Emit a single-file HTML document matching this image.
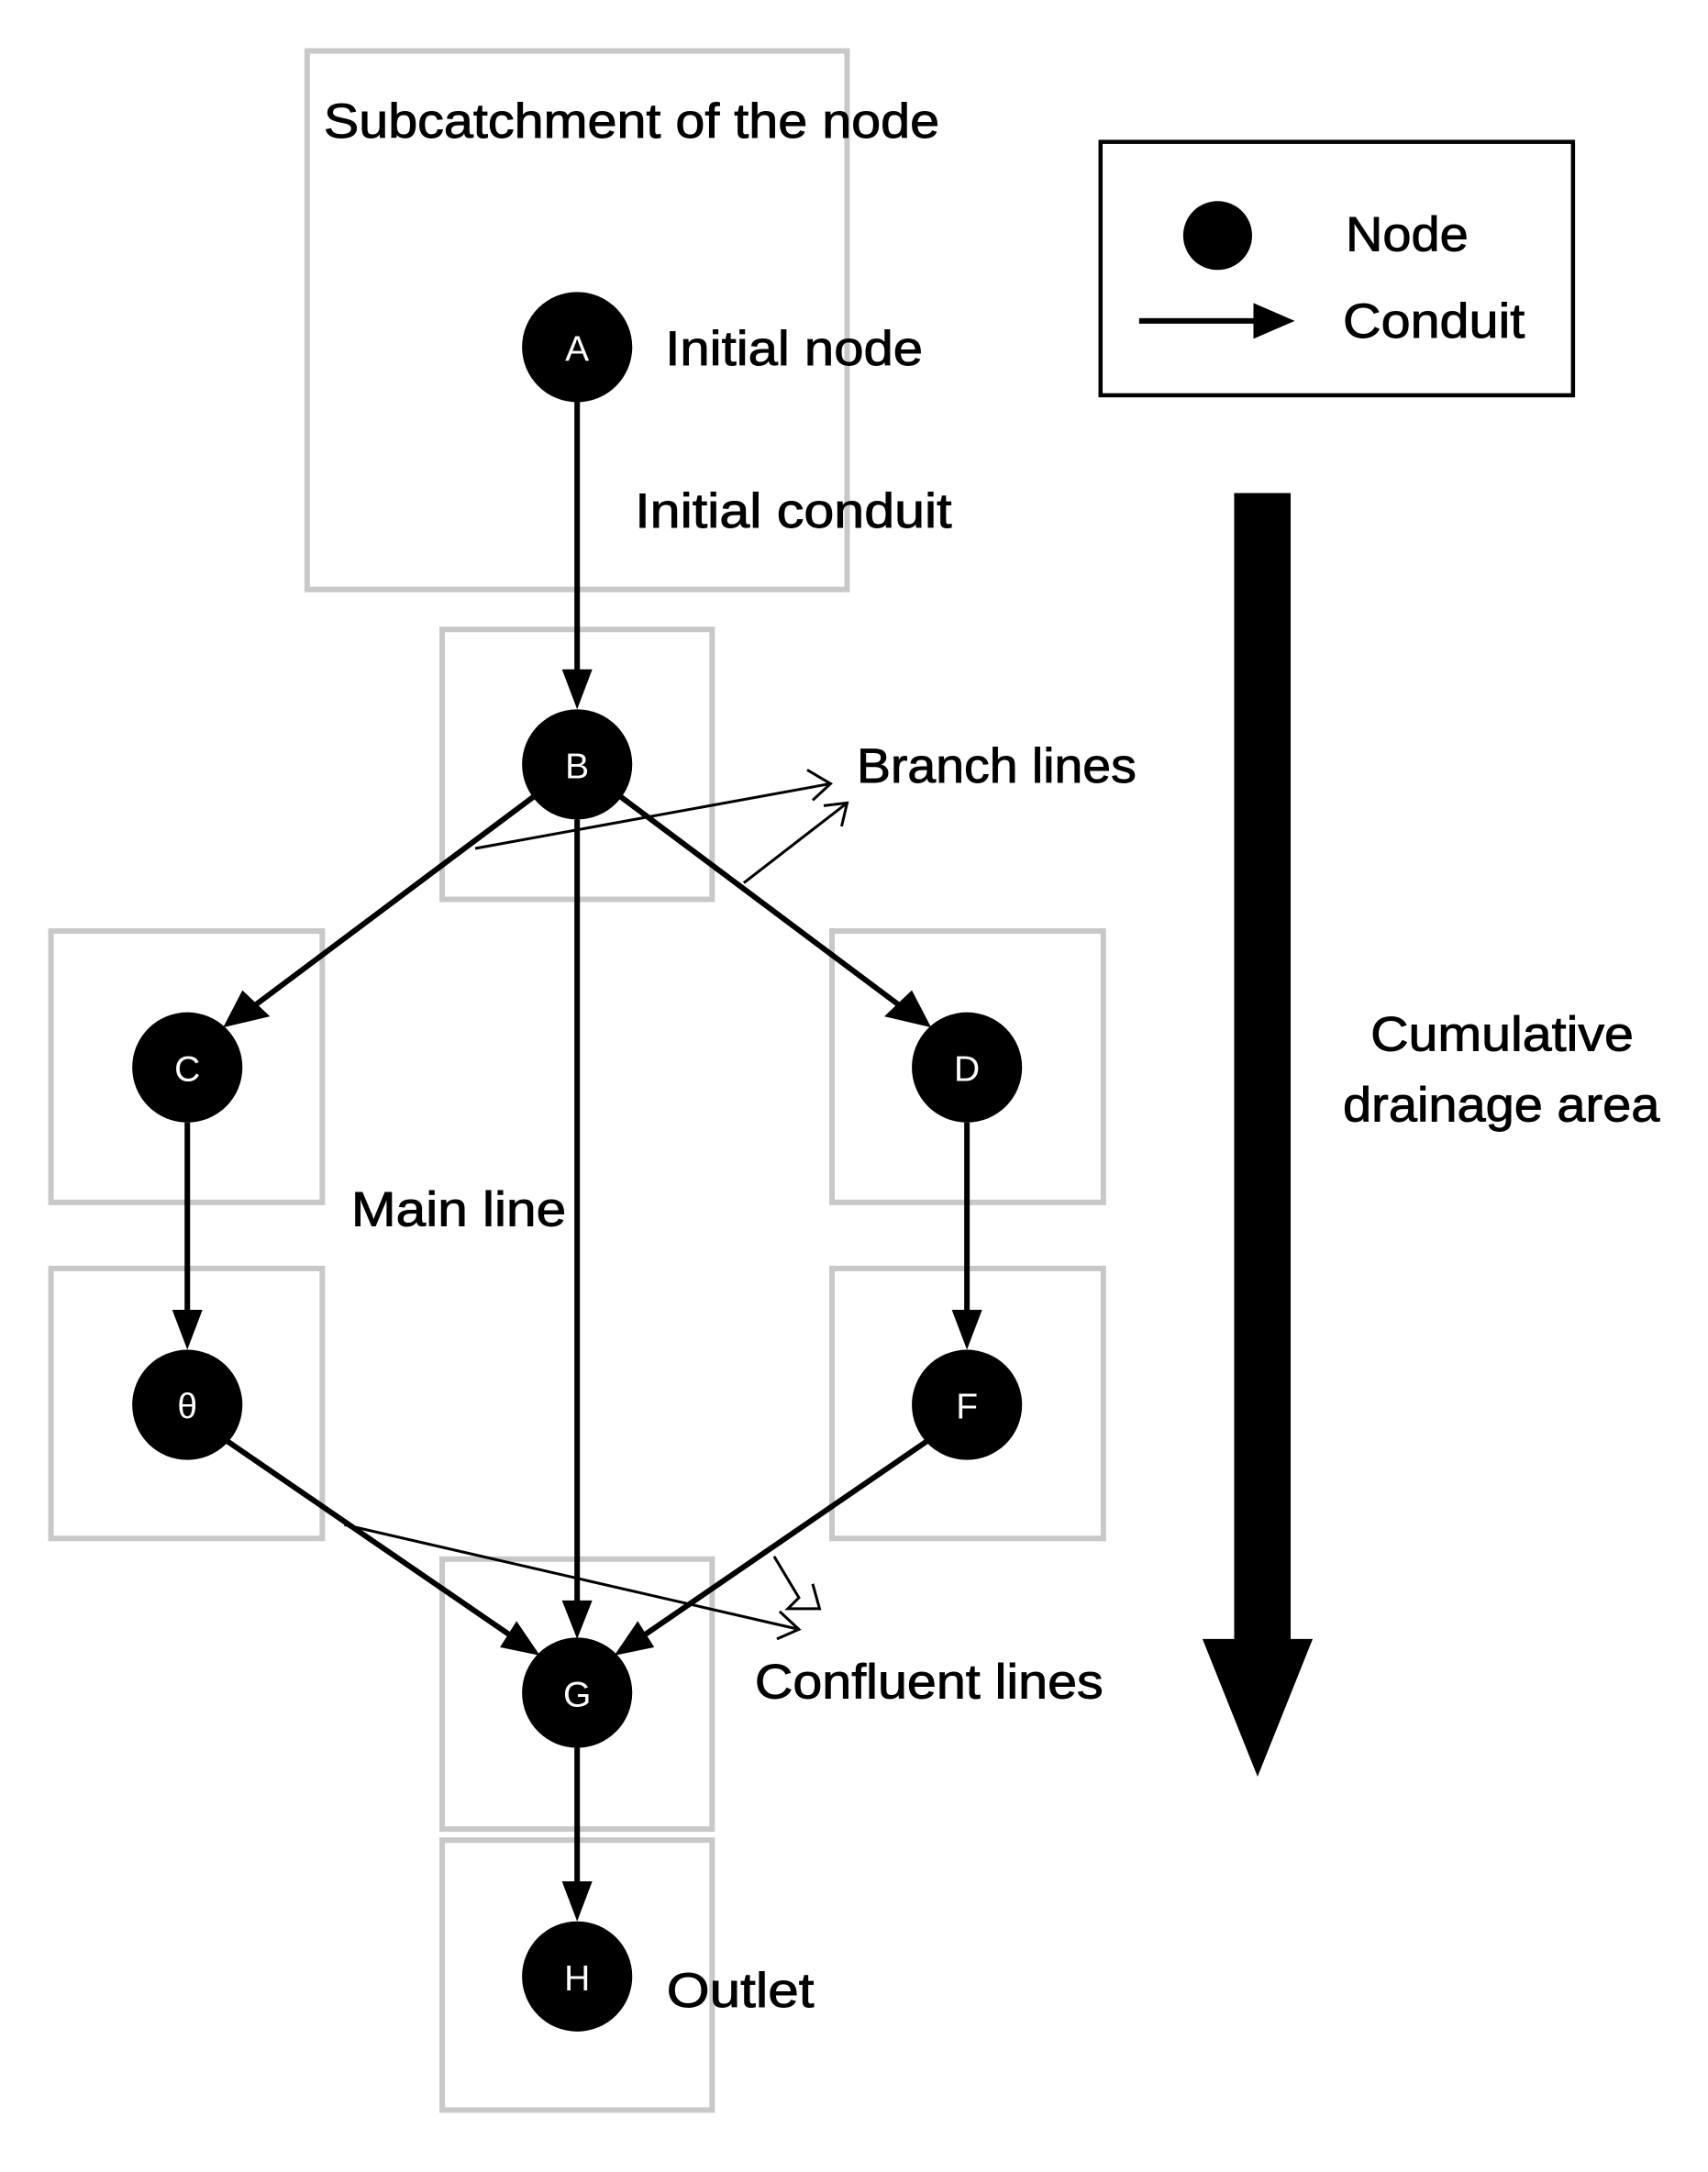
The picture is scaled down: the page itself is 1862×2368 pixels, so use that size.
<!DOCTYPE html>
<html><head><meta charset="utf-8"><style>
html,body{margin:0;padding:0;background:#fff;}
svg{display:block;}
text{font-family:"Liberation Sans",sans-serif;}
</style></head><body>
<svg width="1862" height="2368" viewBox="0 0 1240 1577" preserveAspectRatio="none" xmlns="http://www.w3.org/2000/svg">
<g fill="none" stroke="#c8c8c8" stroke-width="4">
<rect x="223" y="37" width="392" height="391"/>
<rect x="321" y="457" width="196" height="196"/>
<rect x="37" y="676" width="197" height="197"/>
<rect x="604" y="676" width="197" height="197"/>
<rect x="37" y="921" width="197" height="196"/>
<rect x="604" y="921" width="197" height="196"/>
<rect x="321" y="1132" width="196" height="196"/>
<rect x="321" y="1336" width="196" height="196"/>
</g>
<!-- legend -->
<rect x="799" y="103" width="343" height="184" fill="none" stroke="#000" stroke-width="3"/>
<circle cx="884" cy="171" r="25" fill="#000"/>
<line x1="827" y1="233" x2="912" y2="233" stroke="#000" stroke-width="4"/>
<polygon points="910,220 940,233 910,246" fill="#000"/>
<!-- big arrow -->
<rect x="896" y="358" width="41" height="834" fill="#000"/>
<polygon points="873,1190 953,1190 913,1290" fill="#000"/>
<!-- conduits -->
<g stroke="#000" stroke-width="4" fill="none">
<line x1="419" y1="290" x2="419" y2="490"/>
<line x1="419" y1="595" x2="419" y2="1165"/>
<line x1="388" y1="578" x2="185" y2="730"/>
<line x1="450" y1="578" x2="653" y2="730"/>
<line x1="136" y1="815" x2="136" y2="955"/>
<line x1="702" y1="815" x2="702" y2="955"/>
<line x1="163" y1="1045" x2="370" y2="1187"/>
<line x1="675" y1="1045" x2="468" y2="1187"/>
<line x1="419" y1="1269" x2="419" y2="1370"/>
</g>
<g fill="#000">
<polygon points="408,486 430,486 419,515"/>
<polygon points="408,1162 430,1162 419,1190"/>
<polygon points="408,1366 430,1366 419,1395"/>
<polygon points="125,951 147,951 136,980"/>
<polygon points="691,951 713,951 702,980"/>
<polygon points="176,719 196,738 162,746"/>
<polygon points="662,719 642,738 676,746"/>
<polygon points="375,1177 363,1196 392,1202"/>
<polygon points="463,1177 475,1196 446,1202"/>
</g>
<!-- thin lines -->
<g stroke="#000" stroke-width="2" fill="none">
<line x1="345" y1="616" x2="603" y2="569"/>
<polyline points="586,559 603,569 590,581"/>
<line x1="540" y1="641" x2="615" y2="583"/>
<polyline points="598,585 615,583 611,600"/>
<line x1="250" y1="1107" x2="580" y2="1183"/>
<polyline points="566,1170 580,1183 564,1190"/>
<polyline points="562,1130 580,1160 572,1168 595,1168 590,1150"/>
</g>
<!-- nodes -->
<g fill="#000">
<circle cx="419" cy="252" r="40"/>
<circle cx="419" cy="555" r="40"/>
<circle cx="136" cy="775" r="40"/>
<circle cx="702" cy="775" r="40"/>
<circle cx="136" cy="1020" r="40"/>
<circle cx="702" cy="1020" r="40"/>
<circle cx="419" cy="1229" r="40"/>
<circle cx="419" cy="1435" r="40"/>
</g>
<g fill="#fff" font-size="26" text-anchor="middle">
<text x="419" y="262">A</text>
<text x="419" y="565">B</text>
<text x="136" y="785">C</text>
<text x="702" y="785">D</text>
<text x="136" y="1030">θ</text>
<text x="702" y="1030">F</text>
<text x="419" y="1239">G</text>
<text x="419" y="1445">H</text>
</g>
<g font-size="35" fill="#000" stroke="#000" stroke-width="0.6" lengthAdjust="spacingAndGlyphs">
<text x="235" y="100" textLength="447" lengthAdjust="spacingAndGlyphs">Subcatchment of the node</text>
<text x="483" y="265" textLength="187" lengthAdjust="spacingAndGlyphs">Initial node</text>
<text x="461" y="383" textLength="230" lengthAdjust="spacingAndGlyphs">Initial conduit</text>
<text x="977" y="182" textLength="89" lengthAdjust="spacingAndGlyphs">Node</text>
<text x="975" y="245" textLength="132" lengthAdjust="spacingAndGlyphs">Conduit</text>
<text x="995" y="763" textLength="191" lengthAdjust="spacingAndGlyphs">Cumulative</text>
<text x="975" y="814" textLength="230" lengthAdjust="spacingAndGlyphs">drainage area</text>
<text x="622" y="568" textLength="203" lengthAdjust="spacingAndGlyphs">Branch lines</text>
<text x="255" y="890" textLength="156" lengthAdjust="spacingAndGlyphs">Main line</text>
<text x="548" y="1233" textLength="253" lengthAdjust="spacingAndGlyphs">Confluent lines</text>
<text x="484" y="1457" textLength="107" lengthAdjust="spacingAndGlyphs">Outlet</text>
</g>
</svg>
</body></html>
